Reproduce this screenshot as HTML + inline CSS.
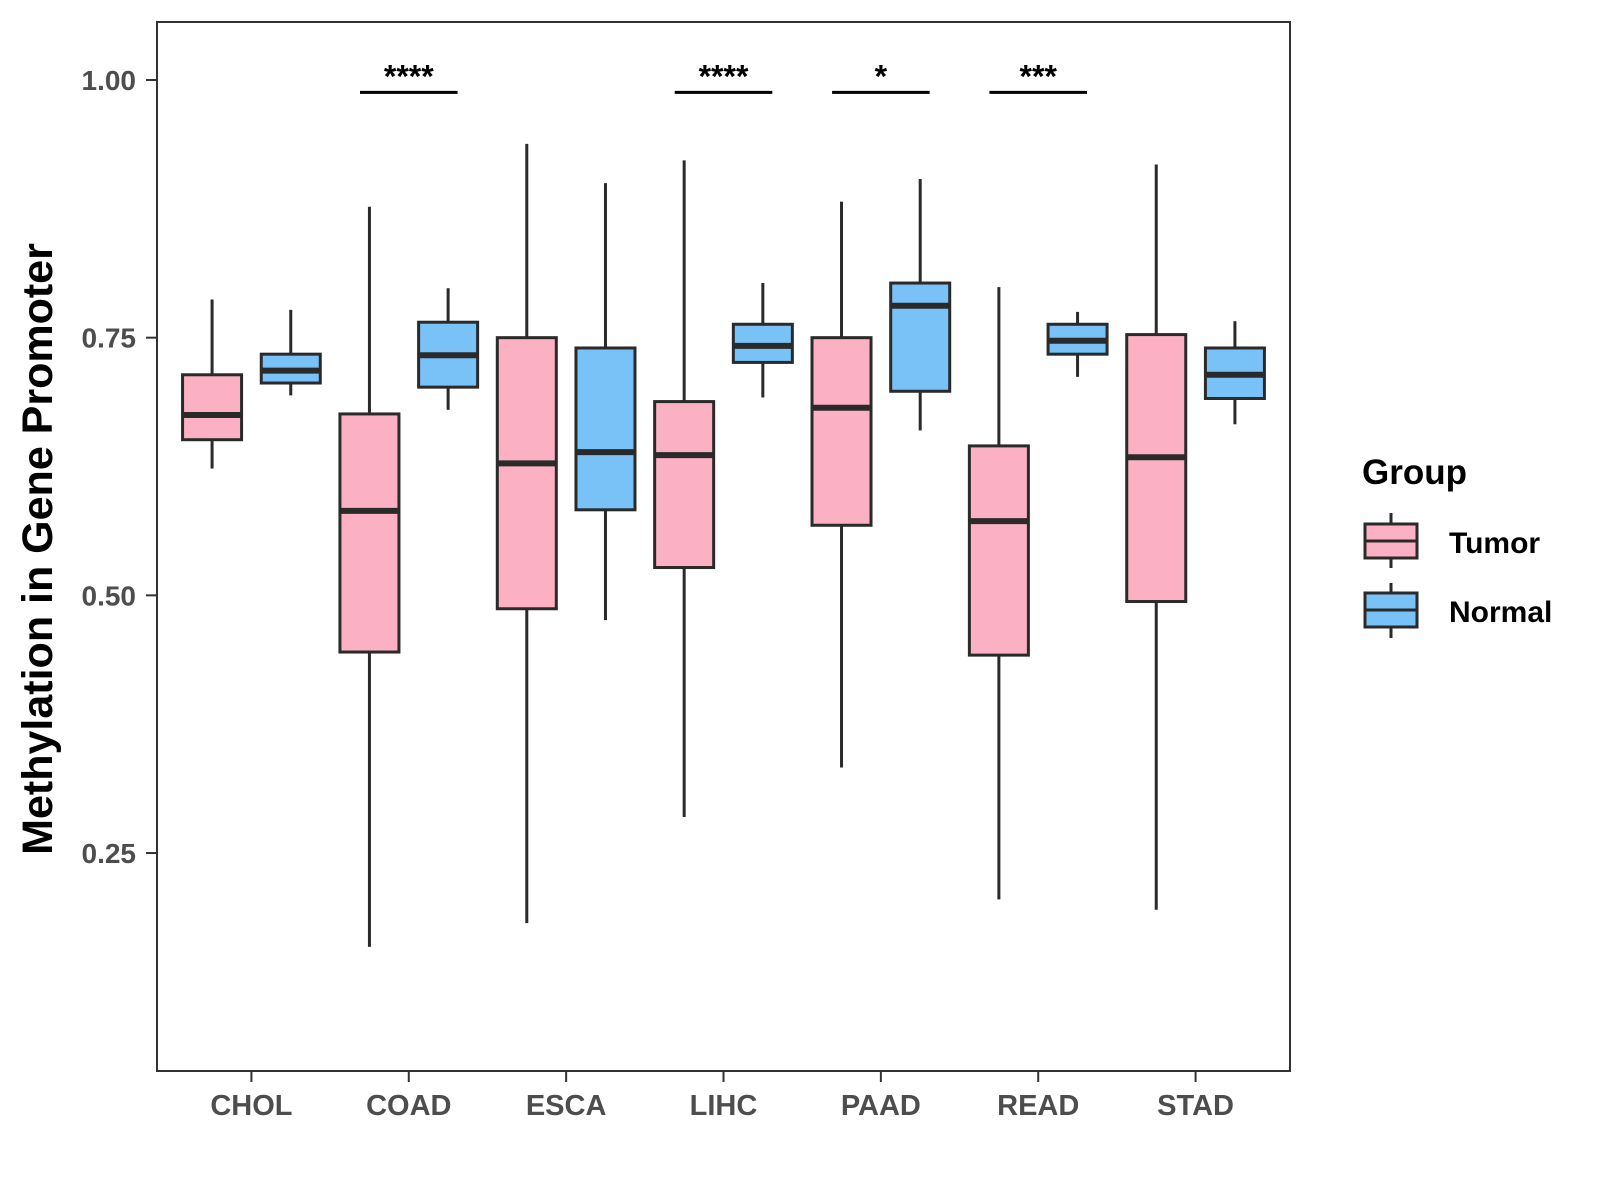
<!DOCTYPE html>
<html><head><meta charset="utf-8"><style>
body{margin:0;background:#fff}
svg{display:block;font-family:"Liberation Sans",Arial,sans-serif}
</style></head><body>
<svg id="chart" width="1600" height="1200" viewBox="0 0 1600 1200">
<rect x="0" y="0" width="1600" height="1200" fill="#fff"/>
<g id="marks"></g>
<rect x="157" y="22" width="1133" height="1049" fill="none" stroke="#333" stroke-width="2"/>
<g id="axes"></g>
<text x="52" y="549" transform="rotate(-90 52 549)" text-anchor="middle" font-size="43" font-weight="bold" fill="#000">Methylation in Gene Promoter</text>
<g>
<text x="1362" y="484" font-size="35" font-weight="bold">Group</text>
<g>
<line x1="1391" y1="513" x2="1391" y2="568" stroke="#2a2a2a" stroke-width="3"/>
<rect x="1365" y="524" width="52" height="34" fill="#fbb1c3" stroke="#2a2a2a" stroke-width="3"/>
<line x1="1365" y1="541" x2="1417" y2="541" stroke="#2a2a2a" stroke-width="3"/>
<text x="1449" y="553" font-size="30" font-weight="bold">Tumor</text></g>
<g>
<line x1="1391" y1="583" x2="1391" y2="638" stroke="#2a2a2a" stroke-width="3"/>
<rect x="1365" y="593" width="52" height="34" fill="#79c2f7" stroke="#2a2a2a" stroke-width="3"/>
<line x1="1365" y1="610" x2="1417" y2="610" stroke="#2a2a2a" stroke-width="3"/>
<text x="1449" y="622" font-size="30" font-weight="bold">Normal</text></g>
</g>
</svg>
<script>
const categories=["CHOL","COAD","ESCA","LIHC","PAAD","READ","STAD"];
// [low, q1, median, q3, high]
const tumorStats=[[0.623,0.651,0.675,0.714,0.787],[0.159,0.445,0.582,0.676,0.877],[0.182,0.487,0.628,0.750,0.938],[0.285,0.527,0.636,0.688,0.922],[0.333,0.568,0.682,0.750,0.882],[0.205,0.442,0.572,0.645,0.799],[0.195,0.494,0.634,0.753,0.918]];
const normalStats=[[0.694,0.706,0.718,0.734,0.777],[0.680,0.702,0.733,0.765,0.798],[0.476,0.583,0.639,0.740,0.900],[0.692,0.726,0.742,0.763,0.803],[0.660,0.698,0.781,0.803,0.904],[0.712,0.734,0.747,0.763,0.775],[0.666,0.691,0.714,0.740,0.766]];
const sigLabels=["","****","","****","*","***",""];
const yTicks=[0.25,0.50,0.75,1.00];
const yTickLabels=["0.25","0.50","0.75","1.00"];
const sigLevel=0.988;

const NS="http://www.w3.org/2000/svg";
const x0=157,x1=1290,band=(x1-x0)/(categories.length+0.2);
const xScale=i=>x0+band*(0.6+i);
const yScale=v=>80+(1-v)*1030.7;
function mk(tag,attrs,parent){const e=document.createElementNS(NS,tag);for(const k in attrs)e.setAttribute(k,attrs[k]);parent.appendChild(e);return e;}
const marks=document.getElementById('marks'),axes=document.getElementById('axes');
const bw=band*0.375;
function drawBox(cx,s,fill,name){
  const g=mk('g',{},marks);
  
  
  mk('line',{x1:cx,x2:cx,y1:yScale(s[4]),y2:yScale(s[3]),stroke:'#2a2a2a','stroke-width':3},g);
  mk('line',{x1:cx,x2:cx,y1:yScale(s[1]),y2:yScale(s[0]),stroke:'#2a2a2a','stroke-width':3},g);
  mk('rect',{x:cx-bw/2,y:yScale(s[3]),width:bw,height:yScale(s[1])-yScale(s[3]),fill:fill,stroke:'#2a2a2a','stroke-width':3},g);
  mk('line',{x1:cx-bw/2,x2:cx+bw/2,y1:yScale(s[2]),y2:yScale(s[2]),stroke:'#2a2a2a','stroke-width':6},g);
}
categories.forEach((c,i)=>{
  const cx=xScale(i),off=band*0.25;
  drawBox(cx-off,tumorStats[i],'#fbb1c3','box-tumor-'+c.toLowerCase());
  drawBox(cx+off,normalStats[i],'#79c2f7','box-normal-'+c.toLowerCase());
  if(sigLabels[i]){
    const g=mk('g',{},marks);
    
    
    mk('line',{x1:cx-band*0.31,x2:cx+band*0.31,y1:yScale(sigLevel),y2:yScale(sigLevel),stroke:'#000','stroke-width':3},g);
    const t=mk('text',{x:cx,y:yScale(sigLevel)-5,'text-anchor':'middle','font-size':32,'font-weight':'bold'},g);
    t.textContent=sigLabels[i];
  }
  mk('line',{x1:cx,x2:cx,y1:1071,y2:1082,stroke:'#333','stroke-width':2},axes);
  const t=mk('text',{x:cx,y:1115,'text-anchor':'middle','font-size':29,'font-weight':'bold',fill:'#4d4d4d'},axes);
  
  
  t.textContent=c;
});
yTicks.forEach((v,i)=>{
  const y=yScale(v);
  mk('line',{x1:146,x2:157,y1:y,y2:y,stroke:'#333','stroke-width':2},axes);
  const t=mk('text',{x:136,y:y+10,'text-anchor':'end','font-size':28,'font-weight':'bold',fill:'#4d4d4d'},axes);
  
  
  t.textContent=yTickLabels[i];
});
</script>
</body></html>
